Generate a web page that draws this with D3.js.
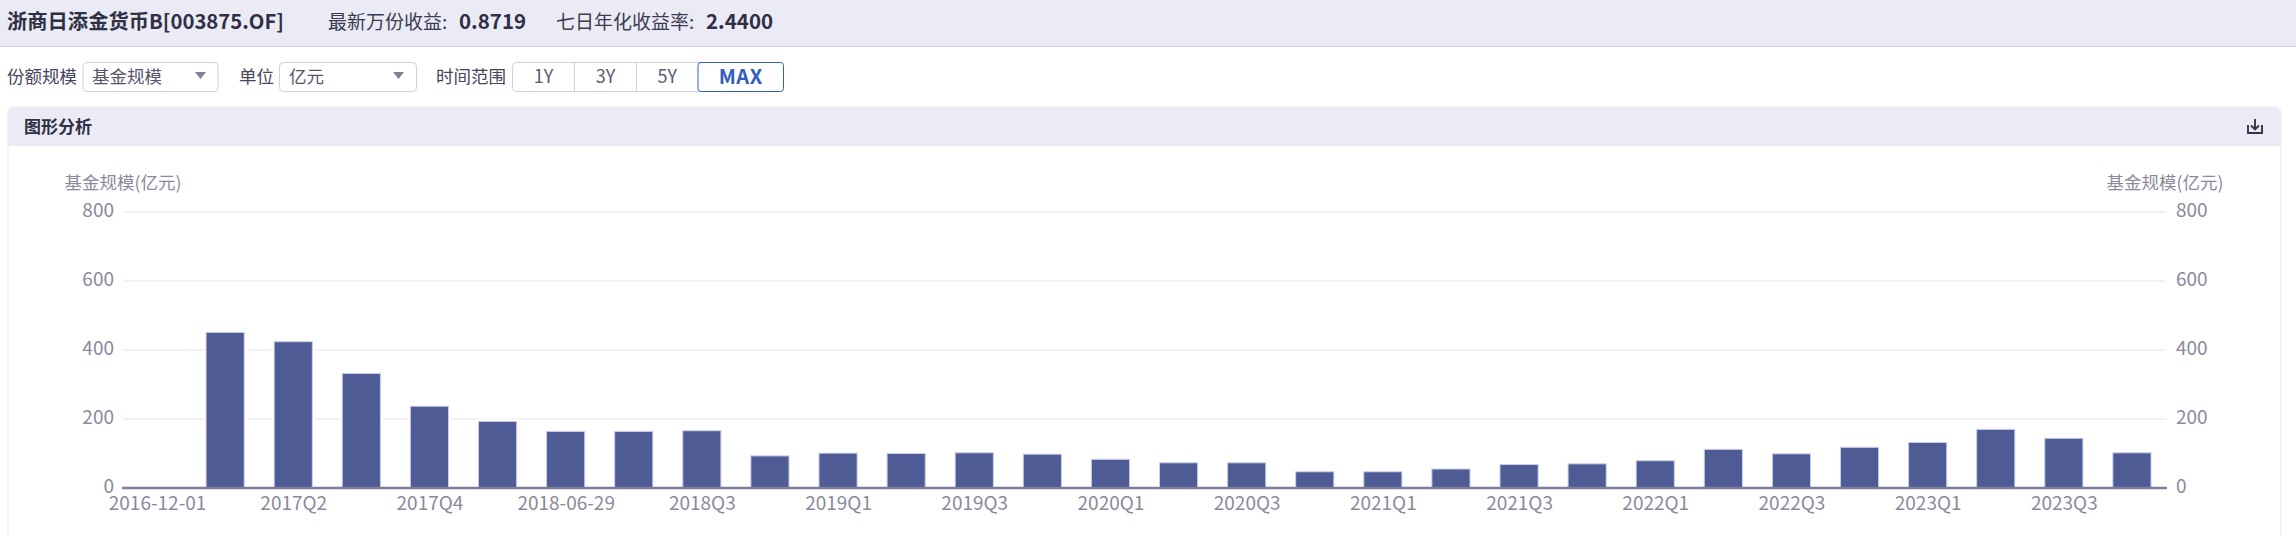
<!DOCTYPE html>
<html lang="zh">
<head>
<meta charset="utf-8">
<script src="https://cdn.jsdelivr.net/npm/d3@7/dist/d3.min.js"></script>
<style>
html,body{margin:0;padding:0;background:#fff;overflow:hidden}
svg{display:block}
text{font-family:"Noto Sans CJK SC","Noto Sans",sans-serif}
.axis .domain{display:none}
.axis line{display:none}
.axis text{font-size:19px;fill:#8a8a9a}
</style>
</head>
<body>
<svg id="c" width="2296" height="536"></svg>
<script>
const categories = ["2016-12-01","2017Q1","2017Q2","2017Q3","2017Q4","2018Q1","2018-06-29","2018Q2","2018Q3","2018Q4",
  "2019Q1","2019Q2","2019Q3","2019Q4","2020Q1","2020Q2","2020Q3","2020Q4","2021Q1","2021Q2",
  "2021Q3","2021Q4","2022Q1","2022Q2","2022Q3","2022Q4","2023Q1","2023Q2","2023Q3","2023Q4"];
const fundSize = [0,451,424,332,237,193,164,164,166,93,101,100,102,98,83,73,73,47,47,55,68,70,79,112,99,118,132,170,144,102];
const xTickLabels = ["2016-12-01","2017Q2","2017Q4","2018-06-29","2018Q3","2019Q1","2019Q3","2020Q1","2020Q3","2021Q1","2021Q3","2022Q1","2022Q3","2023Q1","2023Q3"];
const yTicks = [0,200,400,600,800];
const rangeButtons = ["1Y","3Y","5Y","MAX"];

const svg = d3.select("#c");
const TXT="#2f2f45", MUTED="#8a8a9a", BAND="#ebebf5", EDGE="#cfcfe0";

// page header
svg.append("rect").attr("width",2296).attr("height",46).attr("fill",BAND);
svg.append("rect").attr("y",46).attr("width",2296).attr("height",1).attr("fill","#d4d4de");
const t=(x,y,s,size,fill,weight,anchor)=>svg.append("text").attr("x",x).attr("y",y).attr("dy","0.35em")
  .attr("font-size",size).attr("fill",fill).attr("font-weight",weight||400).attr("text-anchor",anchor||"start").text(s);
t(7,22,"浙商日添金货币B[003875.OF]",20.3,TXT,700);
t(328,22,"最新万份收益:",19,"#3c3c50");
t(459,22,"0.8719",20.5,TXT,700);
t(556,22,"七日年化收益率:",19,"#3c3c50");
t(706,22,"2.4400",20.5,TXT,700);

// controls
const boxY=62.5, boxH=29;
t(7,77,"份额规模",17.5,"#45455a");
svg.append("rect").attr("x",83).attr("y",boxY).attr("width",135).attr("height",boxH).attr("rx",4).attr("fill","#fff").attr("stroke",EDGE);
t(92,77,"基金规模",17.5,"#55556a");
svg.append("path").attr("d","M195,72h11l-5.5,7z").attr("fill","#7f7f95");
t(239,77,"单位",17.5,"#45455a");
svg.append("rect").attr("x",279.5).attr("y",boxY).attr("width",137).attr("height",boxH).attr("rx",4).attr("fill","#fff").attr("stroke",EDGE);
t(289,77,"亿元",17.5,"#55556a");
svg.append("path").attr("d","M393,72h11l-5.5,7z").attr("fill","#7f7f95");
t(436,77,"时间范围",17.5,"#45455a");
svg.append("rect").attr("x",512.5).attr("y",boxY).attr("width",271).attr("height",boxH).attr("rx",4).attr("fill","#fff").attr("stroke",EDGE);
const btnEdges=[512.5,574.5,636.5,698,783.5];
[574.5,636.5].forEach(x=>svg.append("line").attr("x1",x).attr("x2",x).attr("y1",boxY).attr("y2",boxY+boxH).attr("stroke",EDGE));
svg.append("rect").attr("x",698).attr("y",boxY).attr("width",85.5).attr("height",boxH).attr("rx",3).attr("fill","#fff").attr("stroke","#2f62b8");
rangeButtons.forEach((b,i)=>{
  const cx=(btnEdges[i]+btnEdges[i+1])/2, on=b==="MAX";
  t(cx,77,b,on?20:18,on?"#2f5fc0":"#5a5a70",on?700:400,"middle").attr("letter-spacing",on?0.6:0);
});

// panel
svg.append("path").attr("d","M8,536V113a6,6 0 0 1 6,-6H2275a6,6 0 0 1 6,6V536").attr("fill","#fff").attr("stroke","#ebebf3");
svg.append("path").attr("d","M7.5,146V113a6,6 0 0 1 6,-6H2275a6,6 0 0 1 6,6V146z").attr("fill",BAND);
t(24,127,"图形分析",17,TXT,700);
svg.append("path").attr("d","M2248,125v8h14V125M2255,119v10M2251,125.5l4,4l4,-4").attr("fill","none").attr("stroke","#35354a").attr("stroke-width",1.9);

// chart
const L=123,R=2166,T=212,B=488;
const x=d3.scaleBand().domain(categories).range([L,R]).paddingInner(0.44).paddingOuter(0.22);
const y=d3.scaleLinear().domain([0,800]).range([B,T]);

svg.append("g").selectAll("line").data(yTicks.filter(d=>d>0)).join("line")
  .attr("x1",L).attr("x2",R).attr("y1",d=>y(d)).attr("y2",d=>y(d)).attr("stroke","#f1f1f8").attr("stroke-width",2);

const bars=categories.map((c,i)=>({c,v:fundSize[i]})).filter(d=>d.v>0);
svg.append("g").selectAll("rect").data(bars).join("rect")
  .attr("x",d=>x(d.c)).attr("y",d=>y(d.v)).attr("width",x.bandwidth()).attr("height",d=>B-y(d.v))
  .attr("fill","none").attr("stroke","#fff").attr("stroke-width",5);
svg.append("g").selectAll("rect").data(bars).join("rect")
  .attr("x",d=>x(d.c)).attr("y",d=>y(d.v)).attr("width",x.bandwidth()).attr("height",d=>B-y(d.v))
  .attr("fill","#4e5b95").attr("stroke","#c9cde8").attr("stroke-width",1);
svg.append("line").attr("x1",L-1).attr("x2",R+1).attr("y1",B).attr("y2",B).attr("stroke","#7c7c9c").attr("stroke-width",2.5);

const yl=d3.axisLeft(y).tickValues(yTicks).tickSize(0).tickPadding(0);
svg.append("g").attr("class","axis").attr("transform","translate(114,-2)").call(yl);
const yr=d3.axisRight(y).tickValues(yTicks).tickSize(0).tickPadding(0);
svg.append("g").attr("class","axis").attr("transform","translate(2176,-2)").call(yr);
const xa=d3.axisBottom(d3.scalePoint().domain(categories).range([x(categories[0])+x.bandwidth()/2, x(categories[29])+x.bandwidth()/2]))
  .tickValues(xTickLabels).tickSize(0).tickPadding(0);
svg.append("g").attr("class","axis").attr("transform","translate(0,496.5)").call(xa);

t(123,183,"基金规模(亿元)",17.5,MUTED,400,"middle");
t(2165,183,"基金规模(亿元)",17.5,MUTED,400,"middle");
</script>
</body>
</html>
